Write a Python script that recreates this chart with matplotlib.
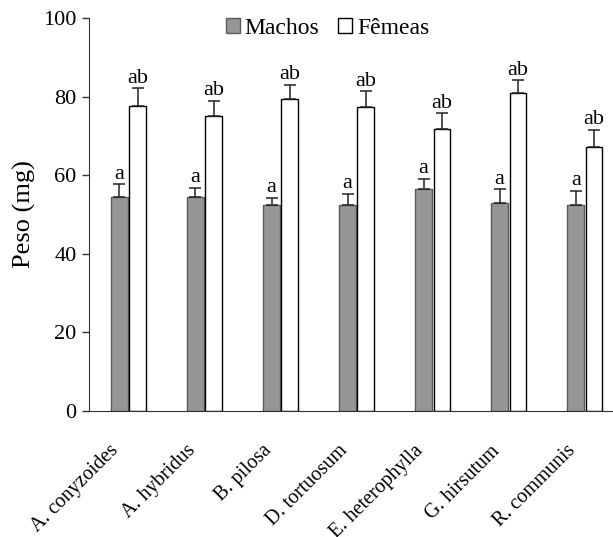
import matplotlib
matplotlib.use("Agg")
import matplotlib.pyplot as plt
import matplotlib.transforms as mtransforms
import numpy as np

categories = ["A. conyzoides", "A. hybridus", "B. pilosa", "D. tortuosum",
              "E. heterophylla", "G. hirsutum", "R. communis"]
machos = [54.5, 54.5, 52.4, 52.4, 56.5, 52.8, 52.3]
machos_err = [3.2, 2.3, 1.9, 2.8, 2.6, 3.6, 3.7]
femeas = [77.7, 75.0, 79.4, 77.3, 71.8, 81.0, 67.1]
femeas_err = [4.4, 3.9, 3.6, 4.0, 3.9, 3.2, 4.5]
machos_letters = ["a"] * 7
femeas_letters = ["ab"] * 7
yticks = [0, 20, 40, 60, 80, 100]

plt.rcParams['font.family'] = ['Liberation Serif', 'DejaVu Serif']

fig = plt.figure(figsize=(6.13, 5.37), dpi=100)
ax = fig.add_axes([0.1452, 0.2348, 0.8548, 0.7317])

x = np.arange(len(categories))
w = 0.22
off = 0.12
ax.bar(x - off, machos, w, color="#969696", edgecolor="#5a5a5a", linewidth=1.0,
       label="Machos", zorder=2)
ax.bar(x + off, femeas, w, color="white", edgecolor="black", linewidth=1.0,
       label="Fêmeas", zorder=2)
ax.errorbar(x - off, machos, yerr=[np.zeros(7), machos_err], fmt="none",
            ecolor="#222222", elinewidth=1.1, capsize=4.5, capthick=1.1, zorder=3)
ax.errorbar(x + off, femeas, yerr=[np.zeros(7), femeas_err], fmt="none",
            ecolor="#222222", elinewidth=1.1, capsize=4.5, capthick=1.1, zorder=3)

for xi, v, e, t in zip(x - off, machos, machos_err, machos_letters):
    ax.annotate(t, (xi, v + e), xytext=(0, 4), textcoords="offset points",
                ha="center", va="baseline", fontsize=16)
for xi, v, e, t in zip(x + off, femeas, femeas_err, femeas_letters):
    ax.annotate(t, (xi, v + e), xytext=(0, 4), textcoords="offset points",
                ha="center", va="baseline", fontsize=16)

ax.set_xlim(-0.52, 6.37)
ax.set_ylim(0, 100)
ax.set_yticks(yticks)
ax.set_yticklabels([str(t) for t in yticks], fontsize=16)
ax.set_xticks(x)
ax.set_xticklabels(categories, rotation=45, ha="right", va="top",
                   rotation_mode="anchor", fontsize=14.5)
ax.tick_params(axis="x", length=0, pad=22)
ax.tick_params(axis="y", length=5, width=1, direction="out", color="#333333", pad=4)
shift = mtransforms.ScaledTranslation(-19 / 100, 0, fig.dpi_scale_trans)
for lbl in ax.get_xticklabels():
    lbl.set_transform(lbl.get_transform() + shift)
for s in ["top", "right"]:
    ax.spines[s].set_visible(False)
ax.spines["left"].set_color("#333333")
ax.spines["bottom"].set_color("#333333")
ax.set_ylabel("Peso (mg)", fontsize=19, labelpad=5)

ax.legend(loc="upper center", bbox_to_anchor=(0.455, 1.025), ncol=2, frameon=False,
          fontsize=17, handlelength=0.6, handleheight=0.6, handletextpad=0.2,
          columnspacing=0.8, borderaxespad=0)

fig.savefig("out.png", dpi=100)
